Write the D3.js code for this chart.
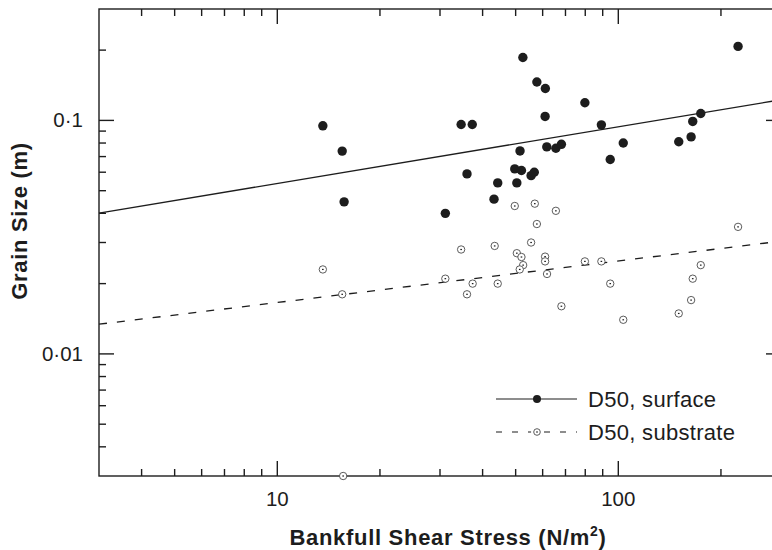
<html>
<script src="https://d3js.org/d3.v7.min.js"></script>
<body style="margin:0;background:#fff">
<div id="chart"></div>
<script>
    // shear stress (N/m2) and D50 grain size (m)
    const stress = [13.6, 15.5, 15.7, 31.1, 34.6, 37.3, 36.0, 43.2, 44.3, 49.7, 50.4, 51.5, 52.0, 52.5, 55.5, 56.7,
        57.7, 61.1, 61.0, 61.7, 65.6, 68.1, 79.8, 89.2, 94.7, 103.4, 150.4, 163.5, 165.3, 174.5, 224.5];
    const d50Surface = [0.0948, 0.0739, 0.0448, 0.040, 0.096, 0.096, 0.059, 0.046, 0.054, 0.062, 0.054, 0.074, 0.061, 0.186, 0.058, 0.060,
        0.146, 0.137, 0.104, 0.077, 0.076, 0.079, 0.119, 0.0957, 0.068, 0.080, 0.081, 0.085, 0.099, 0.107, 0.2075];

    const stressSub = [13.6, 15.5, 15.6, 31.1, 34.6, 36.0, 37.4, 43.4, 44.3, 49.7, 50.4, 52.0, 52.6, 51.4, 56.9, 57.7,
        55.5, 65.6, 61.0, 61.0, 61.8, 68.1, 79.8, 89.2, 94.7, 103.4, 150.4, 163.5, 165.3, 174.5, 224.5];
    const d50Substrate = [0.023, 0.018, 0.003, 0.021, 0.028, 0.018, 0.020, 0.029, 0.020, 0.043, 0.027, 0.026, 0.024, 0.023, 0.044, 0.036,
        0.030, 0.041, 0.0261, 0.0249, 0.022, 0.016, 0.0249, 0.0249, 0.020, 0.014, 0.0149, 0.017, 0.021, 0.024, 0.035];

    // power-law fits, value at each end of the x range
    const fitX = [3, 300];
    const fitSurface = [0.0401, 0.1226];
    const fitSubstrate = [0.0134, 0.0304];

    const xTicks = [10, 100];
    const yTicks = [0.01, 0.1];
    const yTickLabels = ["0·01", "0·1"];
    const seriesNames = ["D50, surface", "D50, substrate"];

    const W = 772, H = 550;
    // right edge of the frame sits just past the picture, as in the original crop
    const mLeft = 99, mRight = 781, mTop = 9, mBottom = 476;
    const ink = "#1d1d1d";
    const font = "'Liberation Sans', Arial, sans-serif";

    const svg = d3.select("#chart").append("svg").attr("width", W).attr("height", H)
        .style("font-family", font);

    const x = d3.scaleLog().domain([3, 300]).range([mLeft, mRight]);
    const y = d3.scaleLog().domain([0.003, 0.3]).range([mBottom, mTop]);

    // minor ticks 1..9 per decade
    const minorX = [], minorY = [];
    for (let e = 0; e <= 2; e++) for (let m = 1; m <= 9; m++) {
        const v = m * Math.pow(10, e);
        if (v > 3 && v < 300 && !xTicks.includes(v)) minorX.push(v);
    }
    for (let e = -3; e <= -1; e++) for (let m = 1; m <= 9; m++) {
        const v = +(m * Math.pow(10, e)).toPrecision(3);
        if (v > 0.003 && v < 0.3 && !yTicks.includes(v)) minorY.push(v);
    }

    const axes = svg.append("g").attr("stroke", ink).attr("stroke-width", 1.4);
    // frame
    axes.append("rect").attr("x", mLeft).attr("y", mTop).attr("width", mRight - mLeft).attr("height", mBottom - mTop)
        .attr("fill", "none");

    // x ticks, bottom and top, pointing inwards
    const xt = minorX.map(v => ({v, len: 7})).concat(xTicks.map(v => ({v, len: 15})));
    axes.selectAll(".xb").data(xt).enter().append("line")
        .attr("x1", d => x(d.v)).attr("x2", d => x(d.v)).attr("y1", mBottom).attr("y2", d => mBottom - d.len);
    axes.selectAll(".xt").data(xt).enter().append("line")
        .attr("x1", d => x(d.v)).attr("x2", d => x(d.v)).attr("y1", mTop).attr("y2", d => mTop + d.len);

    const yt = minorY.map(v => ({v, len: 7})).concat(yTicks.map(v => ({v, len: 15})));
    axes.selectAll(".yl").data(yt).enter().append("line")
        .attr("y1", d => y(d.v)).attr("y2", d => y(d.v)).attr("x1", mLeft).attr("x2", d => mLeft + d.len);
    axes.selectAll(".yr").data(yt).enter().append("line")
        .attr("y1", d => y(d.v)).attr("y2", d => y(d.v)).attr("x1", mRight).attr("x2", d => mRight - d.len);

    // tick labels
    svg.selectAll(".xl").data(xTicks).enter().append("text")
        .attr("x", d => x(d)).attr("y", mBottom + 30)
        .attr("text-anchor", "middle").attr("font-size", 20.5).attr("fill", ink)
        .text(d => d);
    svg.selectAll(".ylab").data(yTicks).enter().append("text")
        .attr("x", mLeft - 16).attr("y", d => y(d) + 7)
        .attr("text-anchor", "end").attr("font-size", 20.5).attr("fill", ink)
        .text((d, i) => yTickLabels[i]);

    // axis titles
    const xTitle = svg.append("text")
        .attr("x", 448).attr("y", 545)
        .attr("text-anchor", "middle").attr("font-size", 22).attr("font-weight", "bold")
        .attr("letter-spacing", 0.7).attr("fill", ink);
    xTitle.append("tspan").text("Bankfull Shear Stress (N/m");
    xTitle.append("tspan").attr("font-size", 14).attr("dy", -9).text("2");
    xTitle.append("tspan").attr("dy", 9).text(")");

    svg.append("text")
        .attr("transform", "translate(27,221) rotate(-90)")
        .attr("text-anchor", "middle").attr("font-size", 22).attr("font-weight", "bold")
        .attr("letter-spacing", 0.7).attr("fill", ink)
        .text("Grain Size (m)");

    // regression lines
    const line = d3.line().x(d => x(d[0])).y(d => y(d[1]));
    svg.append("path").datum(fitX.map((v, i) => [v, fitSurface[i]]))
        .attr("d", line).attr("fill", "none").attr("stroke", ink).attr("stroke-width", 1.3);
    svg.append("path").datum(fitX.map((v, i) => [v, fitSubstrate[i]]))
        .attr("d", line).attr("fill", "none").attr("stroke", ink).attr("stroke-width", 1.3)
        .attr("stroke-dasharray", "8,10");

    // substrate markers: open circle with a dot
    function subMarker(g, r) {
        g.append("circle").attr("r", r).attr("fill", "#fff").attr("stroke", "#4a4a4a").attr("stroke-width", 0.9);
        g.append("rect").attr("x", -0.8).attr("y", -0.6).attr("width", 1.6).attr("height", 1.2).attr("fill", ink);
    }
    const subData = stressSub.map((v, i) => [v, d50Substrate[i]]);
    svg.selectAll(".sub").data(subData).enter().append("g")
        .attr("class", "sub")
        .attr("transform", d => `translate(${x(d[0])},${y(d[1])})`)
        .each(function () { subMarker(d3.select(this), 3.7); });

    const surfData = stress.map((v, i) => [v, d50Surface[i]]);
    svg.selectAll(".surf").data(surfData).enter().append("circle")
        .attr("class", "surf")
        .attr("cx", d => x(d[0])).attr("cy", d => y(d[1])).attr("r", 4.7)
        .attr("fill", ink);

    // legend
    const lg = svg.append("g").attr("transform", "translate(496,0)");
    lg.append("line").attr("x1", 0).attr("x2", 81).attr("y1", 399).attr("y2", 399)
        .attr("stroke", ink).attr("stroke-width", 1.2);
    lg.append("circle").attr("cx", 41).attr("cy", 399).attr("r", 4).attr("fill", ink);
    lg.append("line").attr("x1", 0).attr("x2", 81).attr("y1", 432).attr("y2", 432)
        .attr("stroke", ink).attr("stroke-width", 1.2).attr("stroke-dasharray", "6,10");
    const lm = lg.append("g").attr("transform", "translate(41,432)");
    lm.append("circle").attr("r", 6).attr("fill", "#fff");
    subMarker(lm, 3.3);
    lg.selectAll(".lt").data(seriesNames).enter().append("text")
        .attr("x", 92).attr("y", (d, i) => 407 + i * 33)
        .attr("font-size", 22).attr("letter-spacing", 0.3).attr("fill", ink)
        .text(d => d);
</script>
</body>
</html>
